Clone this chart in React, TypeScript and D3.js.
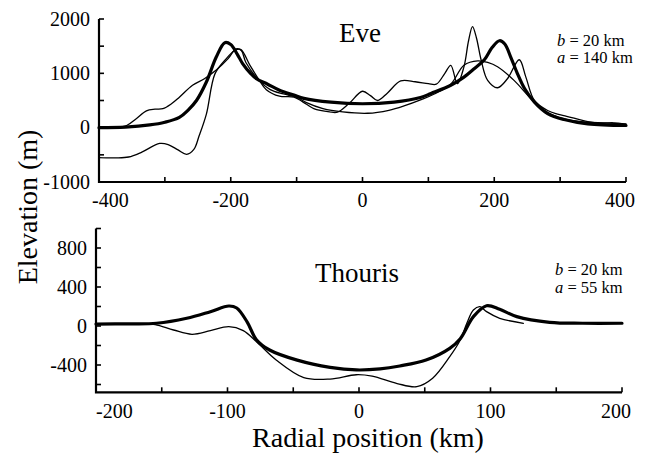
import React from "react";
import * as d3 from "d3";

// ---- Data ----
const eveXTicks = [-400, -300, -200, -100, 0, 100, 200, 300, 400];
const eveXLabels = [-400, -200, 0, 200, 400];
const eveYTicks = [-1000, -500, 0, 500, 1000, 1500, 2000];
const eveYLabels = [-1000, 0, 1000, 2000];

const thouXTicks = [-200, -150, -100, -50, 0, 50, 100, 150, 200];
const thouXLabels = [-200, -100, 0, 100, 200];
const thouYTicks = [-600, -400, -200, 0, 200, 400, 600, 800, 1000];
const thouYLabels = [-400, 0, 400, 800];

const eveModel: [number, number][] = [
  [-400, 0], [-360, 10], [-323, 50], [-300, 100], [-278, 190], [-265, 320], [-252, 500],
  [-237, 840], [-222, 1300], [-209, 1565], [-200, 1530], [-190, 1350], [-182, 1180],
  [-170, 1000], [-161, 900], [-144, 800], [-126, 690], [-104, 600], [-89, 540], [-48, 470],
  [0, 440], [48, 470], [88, 555], [104, 630], [134, 780], [154, 930], [170, 1090],
  [185, 1250], [197, 1480], [208, 1600], [216, 1540], [225, 1300], [235, 1000], [246, 720],
  [261, 470], [281, 260], [306, 150], [342, 70], [400, 40],
];

const eveProfileA: [number, number][] = [
  [-400, -550], [-375, -555], [-355, -540], [-335, -450], [-308, -290], [-295, -310],
  [-280, -410], [-267, -490], [-256, -400], [-248, -150], [-237, 250], [-224, 990],
  [-209, 1240], [-194, 1420], [-185, 1440], [-171, 1150], [-157, 880], [-146, 700],
  [-126, 580], [-104, 560], [-85, 430], [-74, 350], [-50, 290], [-38, 285], [-20, 450],
  [0, 670], [12, 590], [23, 500], [38, 640], [58, 860], [80, 845], [100, 810], [112, 800],
  [125, 1000], [134, 1148], [144, 810], [154, 1120], [161, 1600], [167, 1860], [173, 1650],
  [180, 1250], [190, 870], [205, 735], [220, 900], [238, 1250], [248, 930], [261, 500],
  [281, 315], [296, 250], [310, 210], [342, 110], [360, 80], [380, 90], [400, 70],
];

const eveProfileB: [number, number][] = [
  [-400, 0], [-375, 5], [-358, 40], [-343, 170], [-328, 310], [-315, 340], [-303, 350],
  [-290, 440], [-278, 560], [-258, 780], [-240, 900], [-222, 1060], [-204, 1270],
  [-192, 1450], [-184, 1420], [-177, 1200], [-157, 870], [-140, 700], [-120, 620],
  [-100, 560], [-85, 460], [-60, 350], [-30, 290], [8, 265], [40, 320], [63, 400],
  [90, 520], [109, 620], [134, 800], [154, 1150], [175, 1230], [190, 1200], [205, 1120],
  [230, 870], [256, 530], [276, 315], [300, 180], [340, 100], [370, 90], [400, 60],
];

const thouModel: [number, number][] = [
  [-200, 20], [-175, 22], [-154, 28], [-131, 79], [-113, 147], [-99, 205], [-93, 185],
  [-85, 40], [-78, -140], [-68, -246], [-47, -350], [-22, -424], [-2, -451], [16, -440],
  [31, -410], [51, -349], [69, -229], [77, -130], [87, 96], [97, 208], [107, 171],
  [120, 96], [145, 38], [170, 28], [200, 28],
];

const thouProfile: [number, number][] = [
  [-200, 20], [-165, 22], [-155, 15], [-141, -41], [-127, -85], [-113, -48], [-99, -7],
  [-88, -48], [-78, -161], [-63, -349], [-42, -530], [-22, -544], [-2, -500], [10, -515],
  [29, -590], [44, -622], [56, -536], [69, -315], [77, -144], [82, 28], [87, 164],
  [92, 198], [97, 147], [107, 79], [125, 28],
];

const FONT = "'Liberation Serif', 'Times New Roman', serif";

function Axes({ x, y, xTicks, xLabels, yTicks, yLabels, labelY, firstDx, lastDx }: any) {
  const [x0, x1] = x.range();
  const [y0, y1] = y.range();
  return (
    <g fontFamily={FONT} fontSize={20} fill="#000">
      <path d={`M${x0},${y1}V${y0}H${x1}`} fill="none" stroke="#000" strokeWidth={2.2} />
      {yTicks.map((t: number) => (
        <line key={"yt" + t} x1={x0} x2={x0 + 5} y1={y(t)} y2={y(t)} stroke="#000" strokeWidth={1.6} />
      ))}
      {xTicks.map((t: number) => (
        <line key={"xt" + t} x1={x(t)} x2={x(t)} y1={y0} y2={y0 - 5} stroke="#000" strokeWidth={1.6} />
      ))}
      {yLabels.map((t: number) => (
        <text key={"yl" + t} x={x0 - 9} y={y(t)} dy="0.34em" textAnchor="end">
          {t < 0 ? "-" + Math.abs(t) : String(t)}
        </text>
      ))}
      {xLabels.map((t: number, i: number) => {
        const first = i === 0;
        const last = i === xLabels.length - 1;
        return (
          <text
            key={"xl" + t}
            x={x(t) + (first ? firstDx : last ? lastDx : 0)}
            y={labelY}
            textAnchor={first ? "start" : last ? "end" : "middle"}
          >
            {t < 0 ? "-" + Math.abs(t) : String(t)}
          </text>
        );
      })}
    </g>
  );
}

export default function App() {
  const xTop = d3.scaleLinear().domain([-400, 400]).range([99, 626]);
  const yTop = d3.scaleLinear().domain([-1000, 2000]).range([182, 19]);
  const xBot = d3.scaleLinear().domain([-200, 200]).range([96, 622]);
  const yBot = d3.scaleLinear().domain([-680, 1000]).range([392.3, 228.5]);

  const lineTop = d3
    .line<[number, number]>()
    .x((d) => xTop(d[0]))
    .y((d) => yTop(d[1]))
    .curve(d3.curveCatmullRom.alpha(0.5));
  const lineBot = d3
    .line<[number, number]>()
    .x((d) => xBot(d[0]))
    .y((d) => yBot(d[1]))
    .curve(d3.curveCatmullRom.alpha(0.5));

  return (
    <svg
      width={651}
      height={460}
      style={{ position: "absolute", left: 0, top: 0, background: "#fff" }}
    >
      <rect x={0} y={0} width={651} height={460} fill="#fff" />
      <Axes x={xTop} y={yTop} xTicks={eveXTicks} xLabels={eveXLabels} yTicks={eveYTicks}
        yLabels={eveYLabels} labelY={207} firstDx={-7} lastDx={9} />
      <Axes x={xBot} y={yBot} xTicks={thouXTicks} xLabels={thouXLabels} yTicks={thouYTicks}
        yLabels={thouYLabels} labelY={418} firstDx={0} lastDx={9} />

      <g fill="none" stroke="#000" strokeLinejoin="round" strokeLinecap="round">
        <path d={lineTop(eveProfileA) || ""} strokeWidth={1.3} />
        <path d={lineTop(eveProfileB) || ""} strokeWidth={1.3} />
        <path d={lineTop(eveModel) || ""} strokeWidth={3.2} />
        <path d={lineBot(thouProfile) || ""} strokeWidth={1.3} />
        <path d={lineBot(thouModel) || ""} strokeWidth={3.2} />
      </g>

      <g fontFamily={FONT} fill="#000" fontSize={16.5}>
        <text x={557} y={45.5}>
          <tspan fontStyle="italic">b</tspan> = 20 km
        </text>
        <text x={557} y={63}>
          <tspan fontStyle="italic">a</tspan> = 140 km
        </text>
        <text x={555} y={275}>
          <tspan fontStyle="italic">b</tspan> = 20 km
        </text>
        <text x={555} y={292.5}>
          <tspan fontStyle="italic">a</tspan> = 55 km
        </text>
      </g>
      <g fontFamily={FONT} fill="#000">
        <text x={339} y={42} fontSize={27}>Eve</text>
        <text x={315} y={281.7} fontSize={27}>Thouris</text>
        <text x={368} y={447} fontSize={28} textAnchor="middle">Radial position (km)</text>
        <text transform="translate(37,207) rotate(-90)" fontSize={28} textAnchor="middle">
          Elevation (m)
        </text>
      </g>
    </svg>
  );
}
